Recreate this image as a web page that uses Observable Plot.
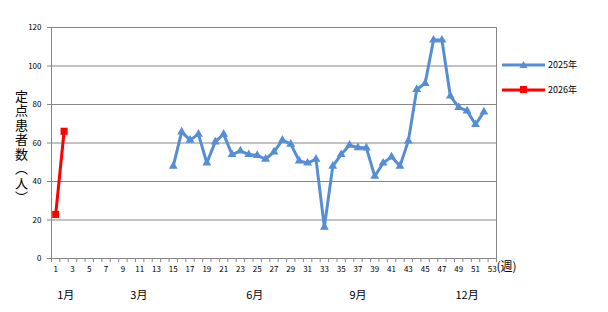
<!DOCTYPE html>
<html><head><meta charset="utf-8">
<script src="https://cdn.jsdelivr.net/npm/d3@7"></script>
<script src="https://cdn.jsdelivr.net/npm/@observablehq/plot@0.6"></script>
<style>
body{margin:0;background:#fff;}
#wrap{position:relative;width:608px;height:312px;font-family:"Noto Sans CJK JP","DejaVu Sans",sans-serif;}
#legend{position:absolute;left:502px;top:52px;font-size:9px;color:#000;}
.li{display:flex;align-items:center;height:25px;}
.li span{margin-left:2px;}
</style></head>
<body><div id="wrap"><div id="legend"></div></div>
<script>
const weeks2025 = d3.range(15, 53);
const values2025 = [48,65.8,61.5,64.6,49.6,60.6,64.6,54,55.9,54,53.6,51.6,55.4,61.5,59.4,50.7,49.6,51.6,16.3,48,54,58.9,57.6,57.5,42.7,49.6,52.8,48,61.1,87.8,91,113.5,113.5,84.4,78.5,76.7,69.6,76.2];
const weeks2026 = [1, 2];
const values2026 = [22.9, 66.1];
const yTicks = [0,20,40,60,80,100,120];
const xLabelWeeks = d3.range(1, 54, 2);
const xBoundaries = d3.range(0.5, 54, 1);
const xDomain = [0.5, 53.5];
const monthLabels = ["1月","3月","6月","9月","12月"];
const monthWeeks = [2.2, 10.9, 24.7, 37, 50];
const seriesNames = ["2025年","2026年"];
const seriesColors = ["#558ED5","#FF0000"];
const yTitle = "定点患者数（人）";
const grid = "#868686";

const d25 = weeks2025.map((w,i)=>({w, v: values2025[i]}));
const d26 = weeks2026.map((w,i)=>({w, v: values2026[i]}));
const months = monthLabels.map((t,i)=>({t, w: monthWeeks[i]}));

const chart = Plot.plot({
  width: 608, height: 312,
  marginLeft: 51, marginRight: 112, marginTop: 27, marginBottom: 54,
  x: {domain: xDomain},
  y: {domain: [0, 120]},
  style: {fontFamily: '"Noto Sans CJK JP","DejaVu Sans",sans-serif', fontSize: "8px", color: "#000", background: "#fff"},
  marks: [
    Plot.gridY(yTicks, {stroke: grid, strokeOpacity: 1}),
    Plot.ruleX([xDomain[1]], {stroke: grid}),
    Plot.ruleX([xDomain[0]], {stroke: grid}),
    Plot.ruleY([0], {stroke: grid}),
    Plot.axisY(yTicks, {tickSize: 4, tickPadding: 6, stroke: grid, fill: "#000", label: null}),
    Plot.axisX(xBoundaries, {tickSize: 4, stroke: grid, tickFormat: () => "", label: null}),
    Plot.axisX(xLabelWeeks, {tickSize: 0, tickPadding: 8, fill: "#000", label: null}),
    Plot.line(d25, {x: "w", y: "v", stroke: seriesColors[0], strokeWidth: 3}),
    Plot.dot(d25, {x: "w", y: "v", symbol: "triangle", r: 3.3, fill: seriesColors[0]}),
    Plot.line(d26, {x: "w", y: "v", stroke: seriesColors[1], strokeWidth: 3}),
    Plot.dot(d26, {x: "w", y: "v", symbol: "square", r: 4, fill: seriesColors[1]}),
    Plot.text(["(週)"], {frameAnchor: "bottom-right", textAnchor: "start", dx: 0, dy: 12, fontSize: 12}),
    Plot.text(months, {x: "w", text: "t", frameAnchor: "bottom", dy: 40, fontSize: 11}),
    Plot.text([yTitle], {frameAnchor: "left", textAnchor: "middle", dx: -30, fontSize: 13})
  ]
});
d3.select(chart).selectAll("text")
  .filter(function(){ return this.textContent === yTitle; })
  .attr("writing-mode", "vertical-rl")
  .attr("dy", null)
  .style("letter-spacing", "1.5px");
document.getElementById("wrap").prepend(chart);

const legend = document.getElementById("legend");
seriesNames.forEach((name, i) => {
  const row = document.createElement("div");
  row.className = "li";
  const sym = i === 0
    ? `<path d="M21.5,1 L25.5,8 L17.5,8 Z" fill="${seriesColors[i]}"/>`
    : `<rect x="18" y="1" width="7" height="7" fill="${seriesColors[i]}"/>`;
  row.innerHTML = `<svg width="44" height="10"><line x1="0" x2="43" y1="5" y2="5" stroke="${seriesColors[i]}" stroke-width="3"/>${sym}</svg><span>${name}</span>`;
  legend.appendChild(row);
});
</script></body></html>
